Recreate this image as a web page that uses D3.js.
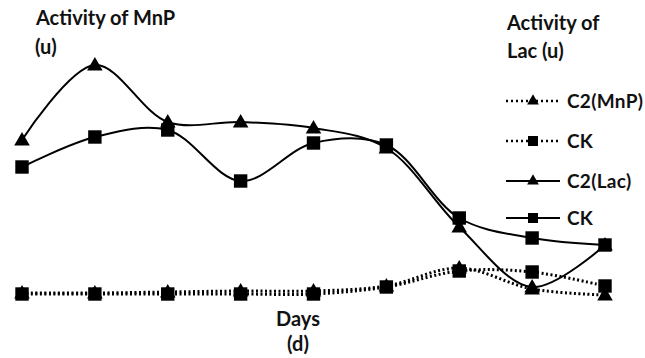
<!DOCTYPE html>
<html>
<head>
<meta charset="utf-8">
<script src="https://d3js.org/d3.v7.min.js"></script>
<style>
  body { margin: 0; background: #fff; }
  text { font-family: Lato, "Open Sans", sans-serif; font-weight: bold; fill: #111; }
</style>
</head>
<body>
<svg width="645" height="358"></svg>
<script>
// days (no tick labels shown on the original)
var days = [1, 2, 3, 4, 5, 6, 7, 8, 9];

// activity values (arbitrary units)
var c2Mnp = [2.8, 2.8, 3.2, 3.6, 3.6, 5.6, 12.8, 4.4, 2];
var ckMnp = [2.4, 2.4, 2.4, 2.4, 2.4, 5.2, 11.6, 11.2, 5.6];
var c2Lac = [64, 94, 71.2, 71.2, 68.8, 60.8, 29.2, 5.2, 22];
var ckLac = [53.2, 65.2, 68, 47.6, 62.8, 62, 32.8, 24.8, 22];

var seriesNames = ["C2(MnP)", "CK", "C2(Lac)", "CK"];

var series = [
  { name: seriesNames[0], values: c2Mnp, dotted: true, marker: "triangle" },
  { name: seriesNames[1], values: ckMnp, dotted: true, marker: "square" },
  { name: seriesNames[2], values: c2Lac, dotted: false, marker: "triangle" },
  { name: seriesNames[3], values: ckLac, dotted: false, marker: "square" }
];

var svg = d3.select("svg");

var x = d3.scaleLinear().domain([1, 9]).range([22, 605]);
var y = d3.scaleLinear().domain([0, 100]).range([300, 50]);

var line = d3.line()
  .x(function(d, i) { return x(days[i]); })
  .y(function(d) { return y(d); })
  .curve(d3.curveCatmullRom.alpha(0.5));

var triangle = d3.symbol().type(d3.symbolTriangle).size(105);
var square = d3.symbol().type(d3.symbolSquare).size(180);

// lines first, then markers on top
series.forEach(function(s) {
  svg.append("path")
    .attr("d", line(s.values))
    .attr("fill", "none")
    .attr("stroke", "#000")
    .attr("stroke-width", s.dotted ? 3 : 2)
    .attr("stroke-dasharray", s.dotted ? "2,2.5" : null);
});

series.forEach(function(s) {
  svg.selectAll(null)
    .data(s.values)
    .enter()
    .append("path")
    .attr("d", s.marker == "triangle" ? triangle : square)
    .attr("transform", function(d, i) {
      var dy = s.marker == "triangle" ? 1 : 0;
      return "translate(" + x(days[i]) + "," + (y(d) + dy) + ")";
    })
    .attr("fill", "#000");
});

// titles
svg.append("text").attr("x", 36).attr("y", 25).attr("font-size", 20).text("Activity of MnP");
svg.append("text").attr("x", 35).attr("y", 54).attr("font-size", 20).text("(u)");
svg.append("text").attr("x", 507).attr("y", 30).attr("font-size", 20).text("Activity of");
svg.append("text").attr("x", 507).attr("y", 58).attr("font-size", 20).text("Lac (u)");
svg.append("text").attr("x", 298).attr("y", 326).attr("font-size", 20).attr("text-anchor", "middle").text("Days");
svg.append("text").attr("x", 298).attr("y", 351).attr("font-size", 20).attr("text-anchor", "middle").text("(d)");

// legend
var legendY = [101, 141, 181, 218];
series.forEach(function(s, i) {
  var g = svg.append("g").attr("transform", "translate(0," + legendY[i] + ")");
  g.append("line")
    .attr("x1", 506).attr("x2", 560)
    .attr("y1", 0).attr("y2", 0)
    .attr("stroke", "#000")
    .attr("stroke-width", s.dotted ? 2.5 : 2)
    .attr("stroke-dasharray", s.dotted ? "2,3" : null);
  g.append("path")
    .attr("d", s.marker == "triangle" ? d3.symbol().type(d3.symbolTriangle).size(60)() : d3.symbol().type(d3.symbolSquare).size(100)())
    .attr("transform", "translate(533,0)")
    .attr("fill", "#000");
  g.append("text")
    .attr("x", 567).attr("y", 7)
    .attr("font-size", 19)
    .attr("letter-spacing", 0.3)
    .text(s.name);
});
</script>
</body>
</html>
